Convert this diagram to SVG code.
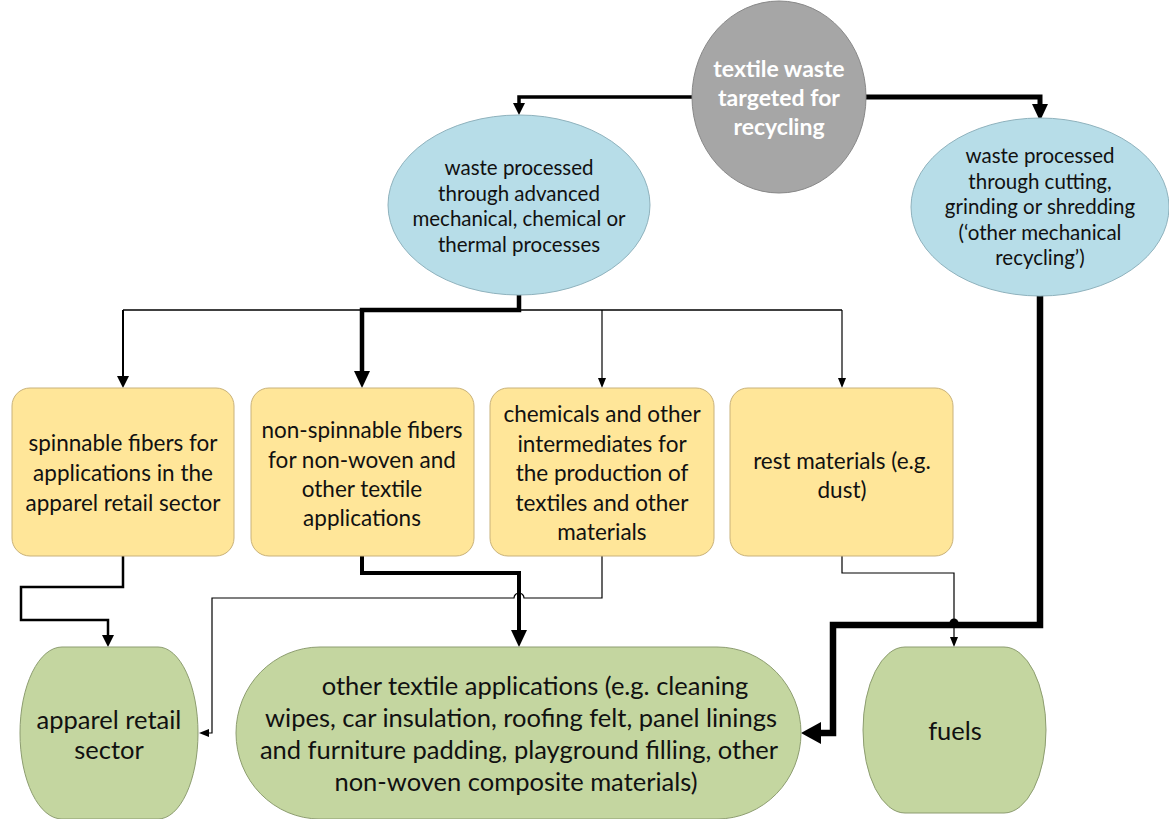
<svg xmlns="http://www.w3.org/2000/svg" width="1169" height="819" viewBox="0 0 1169 819">
<style>
text{font-family:Lato,"Open Sans","Liberation Sans",sans-serif;fill:#111;text-anchor:middle}
.w{fill:#fff;font-weight:bold;font-size:23px}
.b{font-size:20.5px}
.y{font-size:22.5px}
.g{font-size:25.5px}
.blue{fill:#b7dde8;stroke:#8fb2bd;stroke-width:1}
.yel{fill:#ffe699;stroke:#c9b27a;stroke-width:1}
.grn{fill:#c4d6a0;stroke:#8d9d70;stroke-width:1}
.c{fill:none;stroke:#000;stroke-linejoin:miter}
</style>
<defs>
<marker id="aS" markerUnits="userSpaceOnUse" viewBox="0 -4 10 8" refX="0" refY="0" markerWidth="10" markerHeight="8" orient="auto"><path d="M0,-4 L10,0 L0,4 Z" fill="#000"/></marker>
<marker id="aM" markerUnits="userSpaceOnUse" viewBox="0 -6 12 12" refX="0" refY="0" markerWidth="12" markerHeight="12" orient="auto"><path d="M0,-6 L12,0 L0,6 Z" fill="#000"/></marker>
<marker id="aL" markerUnits="userSpaceOnUse" viewBox="0 -8 17 16" refX="0" refY="0" markerWidth="17" markerHeight="16" orient="auto"><path d="M0,-8 L17,0 L0,8 Z" fill="#000"/></marker>
<marker id="aXL" markerUnits="userSpaceOnUse" viewBox="0 -11 20 22" refX="0" refY="0" markerWidth="20" markerHeight="22" orient="auto"><path d="M0,-11 L20,0 L0,11 Z" fill="#000"/></marker>
</defs>
<rect width="1169" height="819" fill="#fff"/>

<g id="connectors">
<path class="c" d="M692,97 H519 V103" stroke-width="3.5" marker-end="url(#aM)"/>
<path class="c" d="M866,97 H1040 V104" stroke-width="5" marker-end="url(#aL)"/>
<path class="c" d="M123,310 H842" stroke-width="1.5"/>
<path class="c" d="M519,294 V310 H362 V371" stroke-width="4.5" marker-end="url(#aL)"/>
<path class="c" d="M123,310 V376" stroke-width="2" marker-end="url(#aM)"/>
<path class="c" d="M602,310 V378" stroke-width="1.2" marker-end="url(#aS)"/>
<path class="c" d="M842,310 V378" stroke-width="1.2" marker-end="url(#aS)"/>
<path class="c" d="M123,556 V587 H21 V620 H108 V635" stroke-width="2.5" marker-end="url(#aM)"/>
<path class="c" d="M362,556 V573 H519 V630" stroke-width="4" marker-end="url(#aL)"/>
<path class="c" d="M602,556 V598 H524 A5,5 0 0 0 514,598 H212 V733 H209" stroke="#aaa" stroke-width="1.2" marker-end="url(#aS)"/>
<path class="c" d="M1040,290 V625 H833 V733 H821" stroke-width="6.5" marker-end="url(#aXL)"/>
<path class="c" d="M842,556 V573 H954 V637" stroke="#444" stroke-width="1.2" marker-end="url(#aS)"/>
<circle cx="954" cy="623" r="4.5" fill="#000"/>
</g>

<g id="n-source">
<ellipse cx="779" cy="97" rx="87" ry="96" fill="#a6a6a6" stroke="#888" stroke-width="1"/>
<text class="w" x="779" y="77">textile waste</text>
<text class="w" x="779" y="106">targeted for</text>
<text class="w" x="779" y="135">recycling</text>
</g>

<g id="n-advanced">
<ellipse class="blue" cx="519" cy="205" rx="131" ry="90"/>
<text class="b" x="519" y="175">waste processed</text>
<text class="b" x="519" y="201">through advanced</text>
<text class="b" x="519" y="226">mechanical, chemical or</text>
<text class="b" x="519" y="252">thermal processes</text>
</g>

<g id="n-mechanical">
<ellipse class="blue" cx="1040" cy="207" rx="129" ry="89"/>
<text class="b" x="1040" y="163">waste processed</text>
<text class="b" x="1040" y="189">through cutting,</text>
<text class="b" x="1040" y="214">grinding or shredding</text>
<text class="b" x="1040" y="240">(‘other mechanical</text>
<text class="b" x="1040" y="265">recycling’)</text>
</g>

<g id="n-spinnable">
<rect class="yel" x="12" y="388" width="222" height="168" rx="18"/>
<text class="y" x="123" y="451">spinnable fibers for</text>
<text class="y" x="123" y="481">applications in the</text>
<text class="y" x="123" y="511">apparel retail sector</text>
</g>

<g id="n-nonspinnable">
<rect class="yel" x="251" y="388" width="223" height="168" rx="18"/>
<text class="y" x="362" y="438">non-spinnable fibers</text>
<text class="y" x="362" y="468">for non-woven and</text>
<text class="y" x="362" y="497">other textile</text>
<text class="y" x="362" y="526">applications</text>
</g>

<g id="n-chemicals">
<rect class="yel" x="490" y="388" width="224" height="168" rx="18"/>
<text class="y" x="602" y="422">chemicals and other</text>
<text class="y" x="602" y="452">intermediates for</text>
<text class="y" x="602" y="481">the production of</text>
<text class="y" x="602" y="511">textiles and other</text>
<text class="y" x="602" y="540">materials</text>
</g>

<g id="n-rest">
<rect class="yel" x="730" y="388" width="223" height="168" rx="18"/>
<text class="y" x="842" y="469">rest materials (e.g.</text>
<text class="y" x="842" y="498">dust)</text>
</g>

<g id="n-apparel">
<path class="grn" d="M62,647 H158 A40,86 0 0 1 198,733 A40,86 0 0 1 158,819 H62 A42,86 0 0 1 20,733 A42,86 0 0 1 62,647 Z"/>
<text class="g" x="109" y="729">apparel retail</text>
<text class="g" x="109" y="759">sector</text>
</g>

<g id="n-other">
<path class="grn" d="M320,647 H717 A84,86 0 0 1 801,733 A84,86 0 0 1 717,819 H320 A84,86 0 0 1 236,733 A84,86 0 0 1 320,647 Z"/>
<text class="g" x="535" y="695">other textile applications (e.g. cleaning</text>
<text class="g" x="521" y="727">wipes, car insulation, roofing felt, panel linings</text>
<text class="g" x="519" y="759">and furniture padding, playground filling, other</text>
<text class="g" x="516" y="791">non-woven composite materials)</text>
</g>

<g id="n-fuels">
<path class="grn" d="M905,647 H1004 A42,83 0 0 1 1046,730 A42,83 0 0 1 1004,813 H905 A42,83 0 0 1 863,730 A42,83 0 0 1 905,647 Z"/>
<text class="g" x="955" y="740">fuels</text>
</g>
</svg>
